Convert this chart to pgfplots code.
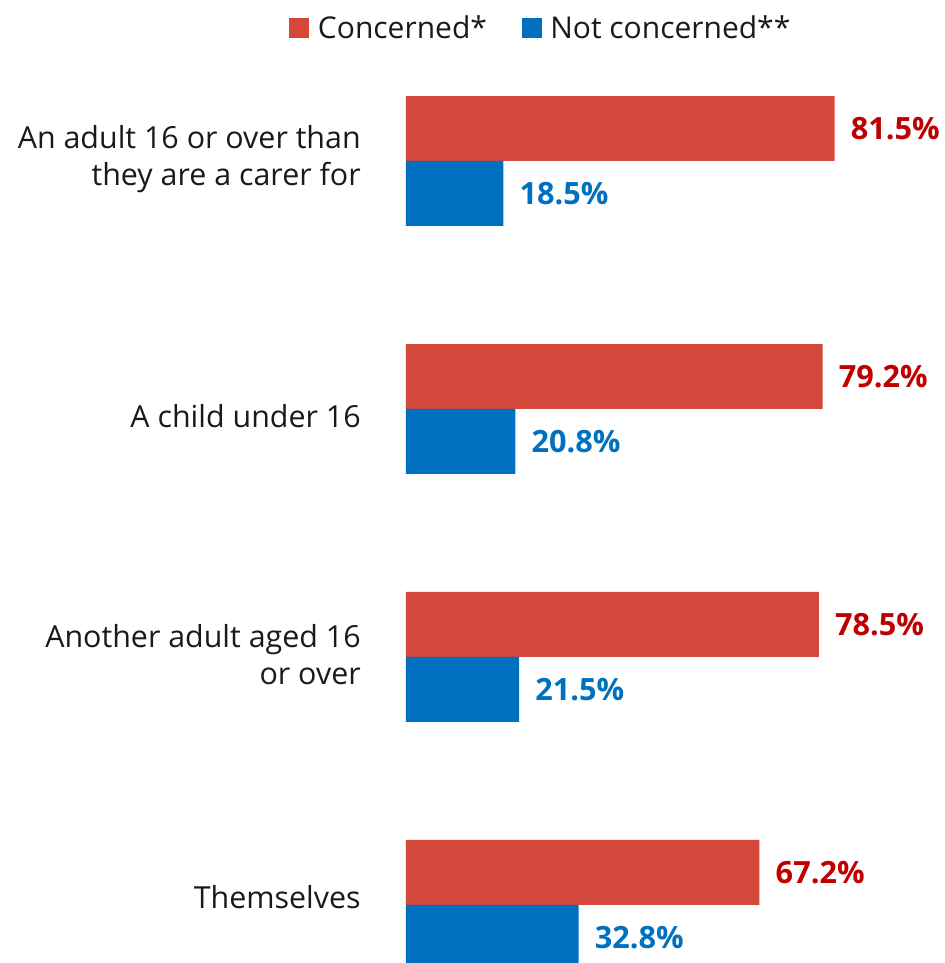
\documentclass[border=0pt]{standalone}
\usepackage{pgfplots}
\pgfplotsset{compat=1.18}
\usepackage{fontspec}
\setmainfont{Open Sans}
\definecolor{cred}{HTML}{D4473B}
\definecolor{cblue}{HTML}{0070C0}
\definecolor{tred}{HTML}{C00000}
\definecolor{tblue}{HTML}{0070C0}
\definecolor{ttext}{HTML}{1A1A1A}
\begin{document}
\begin{tikzpicture}
\begin{axis}[
  at={(0,0)}, anchor=south west,
  scale only axis,
  width=394.5pt, height=694.5pt,
  xmin=0, xmax=100,
  ymin=-0.234, ymax=3.5,
  xbar, bar width=0.262,
  axis x line=none,
  y axis line style={draw=none},
  ytick={0.032,1.008,1.972,3.008},
  yticklabels={Themselves,{Another adult aged 16\\or over},A child under 16,{An adult 16 or over than\\they are a carer for}},
  ytick style={draw=none},
  major tick length=0pt,
  yticklabel style={align=right, inner sep=0pt, xshift=-33.75pt, text=ttext, font=\fontsize{22.8}{27.75}\selectfont},
  /pgf/number format/assume math mode=true,
  point meta=x,
  nodes near coords={\pgfmathprintnumber[fixed,fixed zerofill,precision=1]{\pgfplotspointmeta}\%},
  nodes near coords align=horizontal,
  every node near coord/.append style={anchor=west, inner sep=0pt, xshift=12pt, font=\fontsize{23}{27}\selectfont\bfseries},
  legend style={at={(rel axis cs:0.257,1.0097)}, anchor=center, draw=none, fill=none,
    legend columns=2, font=\fontsize{22.5}{26}\selectfont, text=ttext,
    /tikz/every even column/.append style={column sep=24pt}},
  legend image code/.code={\fill[#1] (0pt,-7.5pt) rectangle (15pt,7.5pt); \path (19.5pt,0pt);},
  legend cell align=left,
]
\addplot[fill=cred, draw=none, bar shift=0.131, every node near coord/.append style={text=tred}] coordinates {
(67.2,0) (78.5,1) (79.2,2) (81.5,3)};
\addlegendentry{Concerned*}
\addplot[fill=cblue, draw=none, bar shift=-0.131, every node near coord/.append style={text=tblue}] coordinates {
(32.8,0) (21.5,1) (20.8,2) (18.5,3)};
\addlegendentry{Not concerned**}
\end{axis}
\pgfresetboundingbox
\useasboundingbox (-304.5pt,0pt) rectangle (404.25pt,722.25pt);
\end{tikzpicture}
\end{document}
